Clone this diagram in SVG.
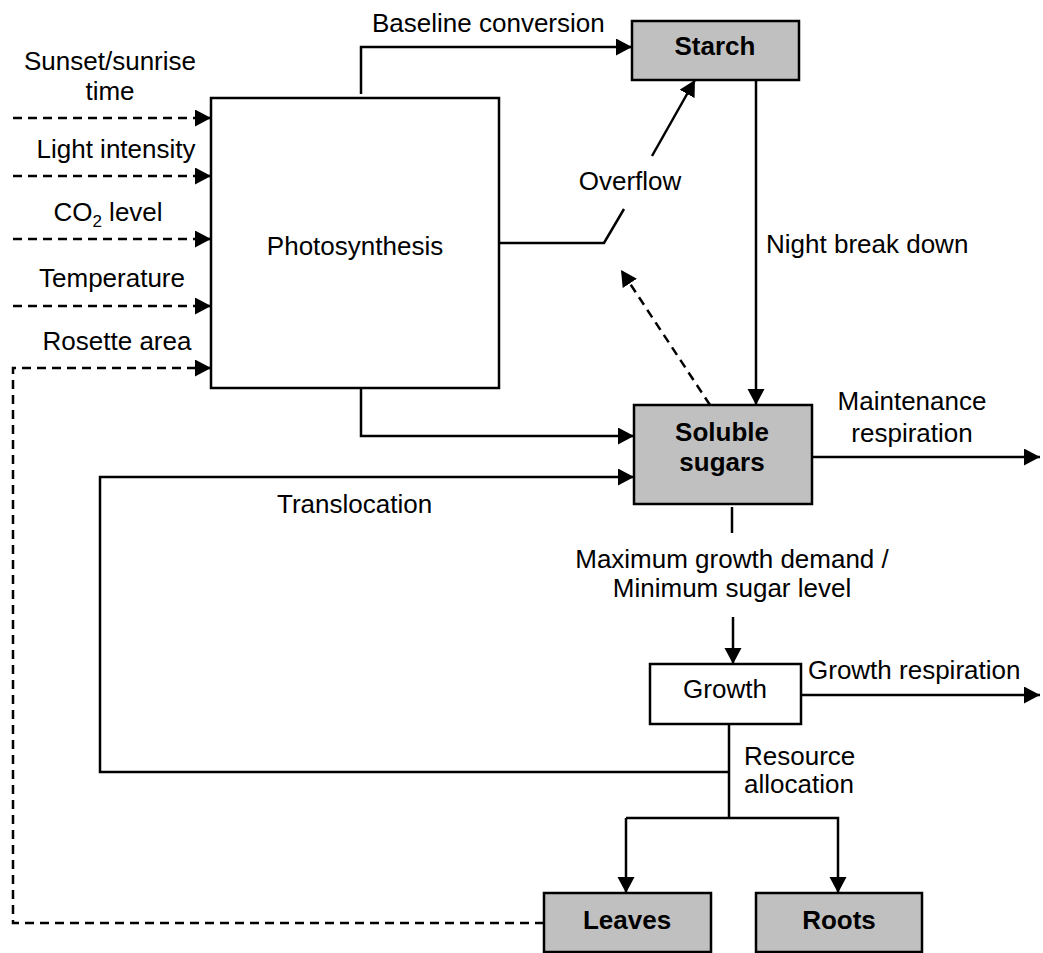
<svg xmlns="http://www.w3.org/2000/svg" width="1043" height="953" viewBox="0 0 1043 953">
  <style>
    text { font-family: "Liberation Sans", Arial, sans-serif; font-size: 26px; fill: #000; }
    .b { font-weight: bold; }
    .mid { text-anchor: middle; }
    .box { fill: #fff; stroke: #000; stroke-width: 2.5; }
    .pool { fill: #c0c0c0; stroke: #000; stroke-width: 2.5; }
    .ln { fill: none; stroke: #000; stroke-width: 2.5; }
    .dash { fill: none; stroke: #000; stroke-width: 2.5; stroke-dasharray: 9 6; }
  </style>
  <defs>
    <marker id="ah" markerUnits="userSpaceOnUse" markerWidth="18" markerHeight="18" refX="16" refY="8.5" orient="auto">
      <path d="M0,0 L16,8.5 L0,17 z" fill="#000"/>
    </marker>
  </defs>

  <rect width="1043" height="953" fill="#fff"/>

  <!-- connectors -->
  <g id="connectors">
    <!-- environmental inputs to photosynthesis -->
    <line class="dash" x1="13" y1="118" x2="211" y2="118" marker-end="url(#ah)"/>
    <line class="dash" x1="13" y1="176" x2="211" y2="176" marker-end="url(#ah)"/>
    <line class="dash" x1="13" y1="239" x2="211" y2="239" marker-end="url(#ah)"/>
    <line class="dash" x1="13" y1="306" x2="211" y2="306" marker-end="url(#ah)"/>
    <!-- leaf area feedback -->
    <path class="dash" d="M544,923 H13 V368 H211" marker-end="url(#ah)"/>
    <!-- baseline conversion -->
    <path class="ln" d="M361,94 V47 H632" marker-end="url(#ah)"/>
    <!-- overflow -->
    <path class="ln" d="M499,243 H604 L624,209"/>
    <line class="ln" x1="652" y1="156" x2="695" y2="80" marker-end="url(#ah)"/>
    <!-- sugar feedback -->
    <line class="dash" x1="710" y1="405" x2="621" y2="270" marker-end="url(#ah)"/>
    <!-- night break down -->
    <line class="ln" x1="756" y1="80" x2="756" y2="405" marker-end="url(#ah)"/>
    <!-- photosynthesis to sugars -->
    <path class="ln" d="M361,388 V436 H634" marker-end="url(#ah)"/>
    <!-- translocation -->
    <path class="ln" d="M729,772 H100 V477 H634" marker-end="url(#ah)"/>
    <!-- maintenance respiration -->
    <line class="ln" x1="812" y1="457" x2="1040" y2="457" marker-end="url(#ah)"/>
    <!-- growth demand -->
    <line class="ln" x1="732" y1="507" x2="732" y2="533"/>
    <line class="ln" x1="733" y1="617" x2="733" y2="664" marker-end="url(#ah)"/>
    <!-- growth respiration -->
    <line class="ln" x1="801" y1="695" x2="1040" y2="695" marker-end="url(#ah)"/>
    <!-- resource allocation -->
    <line class="ln" x1="729" y1="724" x2="729" y2="818"/>
    <path class="ln" d="M626,818 H838 V893" marker-end="url(#ah)"/>
    <path class="ln" d="M626,818 V893" marker-end="url(#ah)"/>
  </g>

  <!-- input labels -->
  <g id="inputs">
    <text class="mid" x="110" y="70">Sunset/sunrise</text>
    <text class="mid" x="110" y="100">time</text>
    <text class="mid" x="116" y="158">Light intensity</text>
    <text class="mid" x="108" y="221">CO<tspan font-size="17" dy="6">2</tspan><tspan dy="-6"> level</tspan></text>
    <text class="mid" x="112" y="287">Temperature</text>
    <text class="mid" x="117" y="350">Rosette area</text>
  </g>

  <!-- flow labels -->
  <g id="labels">
    <text x="372" y="32">Baseline conversion</text>
    <text class="mid" x="630" y="190">Overflow</text>
    <text x="766" y="253">Night break down</text>
    <text class="mid" x="912" y="410">Maintenance</text>
    <text class="mid" x="912" y="442">respiration</text>
    <text x="277" y="513">Translocation</text>
    <text class="mid" x="732" y="568">Maximum growth demand /</text>
    <text class="mid" x="732" y="597">Minimum sugar level</text>
    <text x="808" y="679">Growth respiration</text>
    <text x="744" y="765">Resource</text>
    <text x="744" y="793">allocation</text>
  </g>

  <g id="photosynthesis">
    <rect class="box" x="211" y="98" width="288" height="290"/>
    <text class="mid" x="355" y="255">Photosynthesis</text>
  </g>

  <g id="starch">
    <rect class="pool" x="632" y="21" width="167" height="59"/>
    <text class="mid b" x="715" y="55">Starch</text>
  </g>

  <g id="soluble-sugars">
    <rect class="pool" x="634" y="405" width="178" height="99"/>
    <text class="mid b" x="722" y="441">Soluble</text>
    <text class="mid b" x="722" y="471">sugars</text>
  </g>

  <g id="growth">
    <rect class="box" x="650" y="664" width="151" height="60"/>
    <text class="mid" x="725" y="698">Growth</text>
  </g>

  <g id="leaves">
    <rect class="pool" x="544" y="893" width="167" height="59"/>
    <text class="mid b" x="627" y="929">Leaves</text>
  </g>

  <g id="roots">
    <rect class="pool" x="756" y="893" width="166" height="59"/>
    <text class="mid b" x="839" y="929">Roots</text>
  </g>
</svg>
